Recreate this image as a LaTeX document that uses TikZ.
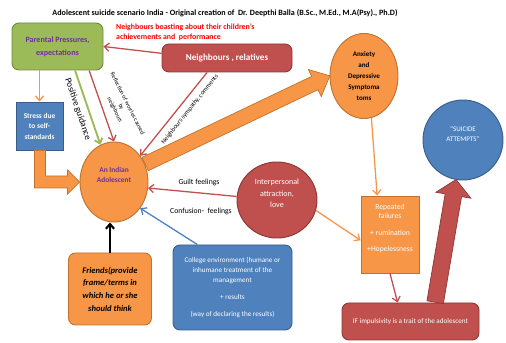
\documentclass[tikz,border=0pt]{standalone}
\usepackage{fontspec}
\setmainfont{Carlito}
\usetikzlibrary{shapes.geometric,shapes.arrows,arrows.meta,calc}
\definecolor{ornge}{HTML}{F79646}
\definecolor{orngedk}{HTML}{C0732F}
\definecolor{rd}{HTML}{C0504D}
\definecolor{rddk}{HTML}{8C3836}
\definecolor{bl}{HTML}{4F81BD}
\definecolor{bldk}{HTML}{385D8A}
\definecolor{grn}{HTML}{9BBB59}
\definecolor{grndk}{HTML}{71893F}
\definecolor{purp}{HTML}{7030A0}
\definecolor{brightred}{HTML}{FF0000}
\newcommand{\fs}[2]{\fontsize{#1}{#2}\selectfont}
\begin{document}
\begin{tikzpicture}[x=0.3mm,y=-0.3mm,>={Straight Barb[length=4pt,width=7pt]},
	box/.style={draw,line width=.8pt,align=center,inner sep=1pt},
	rbox/.style={box,rounded corners=6pt},
	circ/.style={ellipse,draw,line width=.8pt,align=center,inner sep=0pt},
	thin/.style={->,line width=1.1pt},
	fat/.style={single arrow,draw,line width=.6pt,inner xsep=0pt,anchor=tail}]
	\useasboundingbox (0,0) rectangle (506,343);
	\node[font=\fs{6.9}{8}\bfseries] (title) at (225,13) {Adolescent suicide scenario India - Original creation of~ Dr. Deepthi Balla (B.Sc., M.Ed., M.A(Psy)., Ph.D)};
	\node[rbox,draw=grndk,fill=grn,text=purp,font=\fs{6.9}{11}\bfseries,minimum width=91*.3mm,minimum height=47*.3mm] (par) at (57.5,46.5) {Parental Pressures,\\expectations};
	\node[anchor=west,align=left,text=brightred,font=\fs{6.7}{8.5}\bfseries] (boast) at (112,32) {Neighbours boasting about their children's\\achievements and~ performance};
	\node[rbox,draw=rddk,fill=rd,text=white,font=\fs{7.8}{9}\bfseries,minimum width=130*.3mm,minimum height=28*.3mm] (nb) at (227,58) {Neighbours , relatives};
	\node[box,draw=bldk,fill=bl,text=white,font=\fs{6.3}{9}\bfseries,minimum width=47*.3mm,minimum height=48*.3mm] (stress) at (39.5,126) {Stress due\\to self-\\standards};
	\node[circ,draw=orngedk,fill=ornge,text=purp,font=\fs{6.3}{8.5}\bfseries,minimum width=68*.3mm,minimum height=80*.3mm] (ado) at (114,182) {An Indian\\Adolescent\\[4pt]};
	\node[circ,draw=orngedk,fill=ornge,font=\fs{6}{9.4}\bfseries,minimum width=68*.3mm,minimum height=85*.3mm] (anx) at (364,76) {Anxiety\\and\\Depressive\\Symptoma\\toms};
	\node[circ,draw=bldk,fill=bl,text=white,font=\fs{6}{8.5},minimum width=80*.3mm,minimum height=80*.3mm] (sui) at (463,140) {``SUICIDE\\ATTEMPTS''\\[2pt]};
	\node[circ,draw=rddk,fill=rd,text=white,font=\fs{6.9}{9.8},minimum width=80*.3mm,minimum height=76*.3mm] (inter) at (277,200) {Interpersonal\\attraction,\\love\\[1pt]};
	\node[box,draw=orngedk,fill=ornge,text=white,font=\fs{6.5}{8.5},minimum width=58*.3mm,minimum height=77*.3mm] (rep) at (390,234.5) {Repeated\\failures\\[6pt]+ rumination\\[5pt]+Hopelessness\\[3pt]};
	\node[rbox,draw=bldk,fill=bl,text=white,font=\fs{6.1}{8.5},minimum width=119*.3mm,minimum height=85*.3mm] (col) at (232.5,287.5) {College environment (humane or\\inhumane treatment of the\\management\\[6pt]+ results\\[6pt](way of declaring the results)};
	\node[rbox,draw=rddk,fill=rd,text=white,font=\fs{6.1}{7},minimum width=137*.3mm,minimum height=37*.3mm] (ifb) at (410.5,321.5) {IF impulsivity is a trait of the adolescent};
	\node[rbox,draw=orngedk,fill=ornge,font=\fs{7.3}{10.8}\bfseries\itshape,minimum width=83*.3mm,minimum height=72*.3mm] (fr) at (110,289) {Friends(provide\\frame/terms in\\which he or she\\should think};
	\node[font=\fs{6.6}{7}] (guilt) at (199,182) {Guilt feelings};
	\node[font=\fs{6.6}{7}] (conf) at (201,211) {Confusion-~ feelings};
	\draw[thin,rd] ([yshift=4pt]nb.west) -- (par.east);
	\draw[thin,ornge] (stress.north |- par.south) -- (stress.north);
	\draw[thin,grn,line width=1.6pt] ([xshift=15pt]par.south) -- node[below=1pt,sloped,text=black,font=\fs{7.8}{8},pos=.48] {Positive guidance} (ado.110);
	\draw[thin,rd] ([xshift=27pt]par.south) -- (ado.north);
	\node[rotate=-63,align=center,font=\fs{5.1}{6}] (refl) at (121,107) {Reflection of worries caused\\by\\neighbours};
	\draw[thin,rd] ([xshift=-17pt]nb.south) -- node[below=2pt,sloped,text=black,font=\fs{5.5}{6},pos=.37] {Neighbours sympathy, comments} (ado.45);
	\draw[thin,rd] (inter.175) -- (ado.-10);
	\draw[thin,bl] ([xshift=-30pt]col.north) -- (ado.-45);
	\draw[thin,ornge] (inter.-15) -- ([yshift=-5pt]rep.west);
	\draw[thin,ornge] (anx.-80) -- ([xshift=-11pt]rep.north);
	\draw[thin,rd] (rep.south) -- ([xshift=-11pt]ifb.north);
	\draw[->,line width=1.8pt] (fr.north) -- (fr.north |- ado.south);
	\draw[draw=orngedk,fill=ornge,line width=.6pt] ($(stress.south)+(-5,0)$) |- ($(ado.west)+(-12,6)$) -- ++(0,6) -- (ado.west) -- ++(-12,-12) -- ++(0,6) -| ($(stress.south)+(6,0)$) -- cycle;
	\path let \p1=(ado.30), \p2=(anx.west), \n1={atan2(\y2-\y1,\x2-\x1)}, \n2={veclen(\x2-\x1,\y2-\y1)} in
		(\p1) node[fat,draw=orngedk,fill=ornge,inner ysep=6pt,single arrow head extend=6.5pt,single arrow tip angle=84,minimum height=\n2,rotate=\n1] (fa1) {};
	\path let \p1=([xshift=21pt]ifb.north), \p2=(sui.260), \n1={atan2(\y2-\y1,\x2-\x1)}, \n2={veclen(\x2-\x1,\y2-\y1)} in
		(\p1) node[fat,draw=rddk,fill=rd,inner ysep=6.8pt,single arrow head extend=8pt,single arrow tip angle=96,minimum height=\n2,rotate=\n1] (fa2) {};
\end{tikzpicture}
\end{document}
